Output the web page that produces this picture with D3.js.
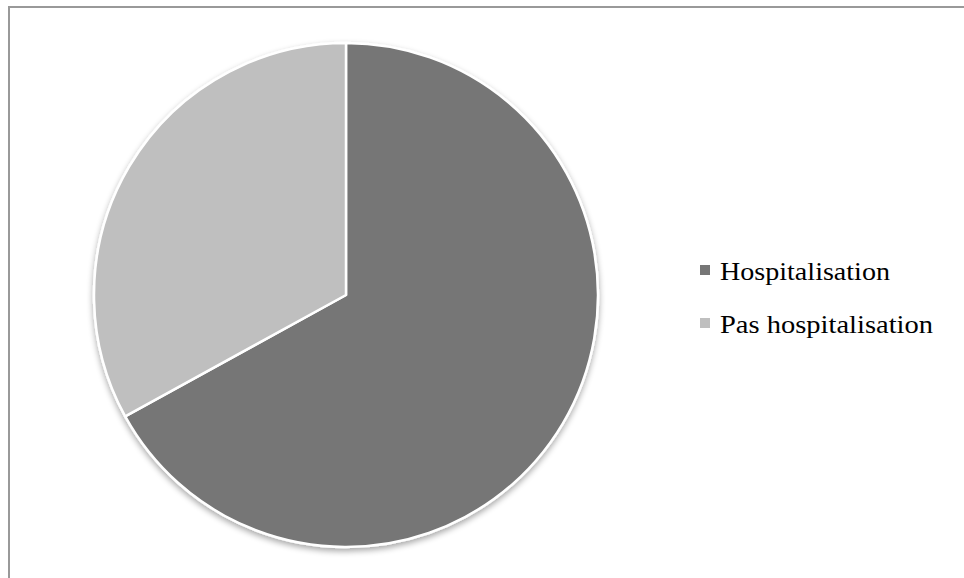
<!DOCTYPE html>
<html><head><meta charset="utf-8">
<script src="https://cdn.jsdelivr.net/npm/d3@7"></script>
<style>html,body{margin:0;padding:0;background:#fff;}</style>
</head><body>
<script>
const categories = ["Hospitalisation", "Pas hospitalisation"];
const values = [67, 33];
const colors = ["#767676", "#bfbfbf"];
const labelLengths = [170, 213];

const W = 964, H = 578;
const svg = d3.select("body").append("svg").attr("width", W).attr("height", H);

svg.append("rect").attr("x", 9).attr("y", 7).attr("width", 970).attr("height", 600)
  .attr("fill", "#fff").attr("stroke", "#999").attr("stroke-width", 2);

const defs = svg.append("defs");
const f = defs.append("filter").attr("id", "sh").attr("x", "-10%").attr("y", "-10%").attr("width", "120%").attr("height", "120%");
f.append("feGaussianBlur").attr("in", "SourceAlpha").attr("stdDeviation", 3).attr("result", "b");
f.append("feOffset").attr("in", "b").attr("dx", 0).attr("dy", 3).attr("result", "o");
f.append("feComponentTransfer").attr("in", "o").attr("result", "o2")
  .append("feFuncA").attr("type", "linear").attr("slope", 0.35);
const m = f.append("feMerge");
m.append("feMergeNode").attr("in", "o2");
m.append("feMergeNode").attr("in", "SourceGraphic");

const cx = 346, cy = 295, r = 252;
const pie = d3.pie().sort(null).value(d => d)(values);
const arc = d3.arc().innerRadius(0).outerRadius(r);
const g = svg.append("g").attr("transform", `translate(${cx},${cy})`).attr("filter", "url(#sh)");
g.selectAll("path").data(pie).join("path")
  .attr("d", arc).attr("fill", (d, i) => colors[i])
  .attr("stroke", "#fff").attr("stroke-width", 2.5).attr("stroke-linejoin", "round");

const lg = svg.append("g");
categories.forEach((c, i) => {
  const y = 280 + i * 53;
  lg.append("rect").attr("x", 700).attr("y", y - 15).attr("width", 10).attr("height", 10).attr("fill", colors[i]);
  lg.append("text").attr("x", 720).attr("y", y).text(c)
    .attr("textLength", labelLengths[i]).attr("lengthAdjust", "spacingAndGlyphs")
    .attr("font-family", "Liberation Serif, serif").attr("font-size", 24.5).attr("fill", "#000");
});
</script>
</body></html>
